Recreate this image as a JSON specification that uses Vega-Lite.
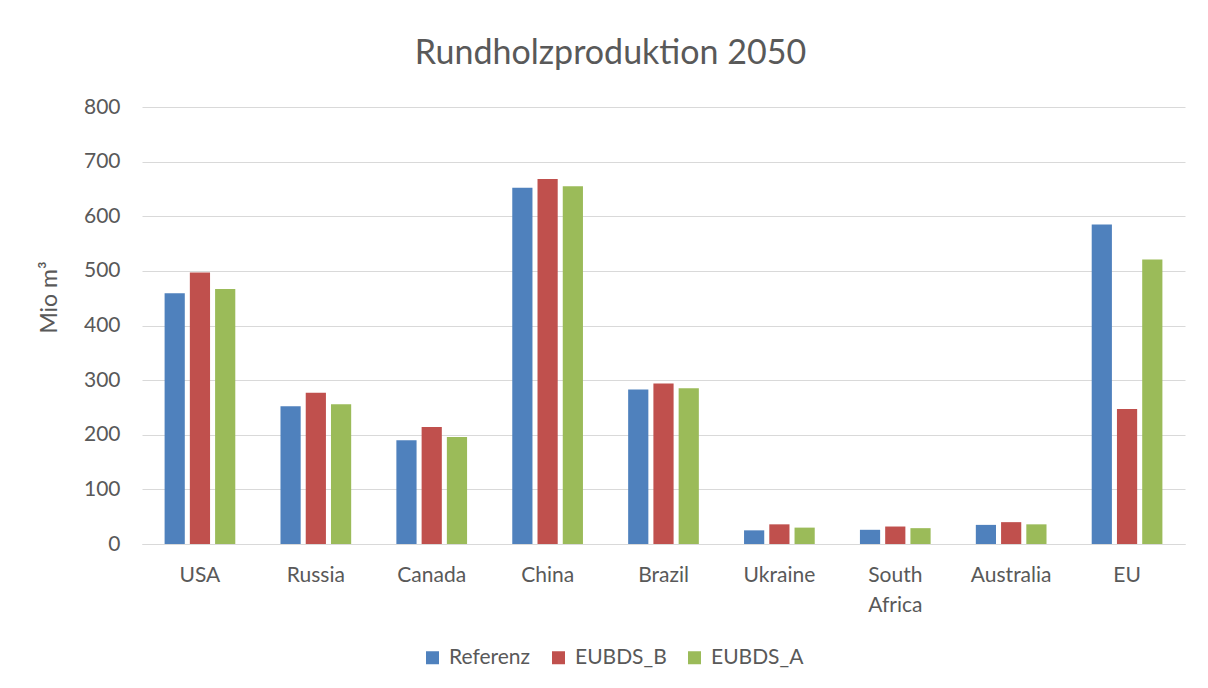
{
  "$schema": "https://vega.github.io/schema/vega-lite/v6.json",
  "width": 1043,
  "height": 437,
  "autosize": {"type": "none"},
  "padding": {"left": 142, "top": 107, "right": 23, "bottom": 144},
  "background": "white",
  "title": {
    "text": "Rundholzproduktion 2050",
    "font": "Lato",
    "fontSize": 34,
    "fontWeight": "normal",
    "color": "#595959",
    "anchor": "middle",
    "dx": -53,
    "offset": 25
  },
  "data": {
    "values": [
      {"country": "USA", "scenario": "Referenz", "value": 459},
      {"country": "USA", "scenario": "EUBDS_B", "value": 497},
      {"country": "USA", "scenario": "EUBDS_A", "value": 467},
      {"country": "Russia", "scenario": "Referenz", "value": 252},
      {"country": "Russia", "scenario": "EUBDS_B", "value": 277},
      {"country": "Russia", "scenario": "EUBDS_A", "value": 256},
      {"country": "Canada", "scenario": "Referenz", "value": 190},
      {"country": "Canada", "scenario": "EUBDS_B", "value": 214},
      {"country": "Canada", "scenario": "EUBDS_A", "value": 196},
      {"country": "China", "scenario": "Referenz", "value": 652},
      {"country": "China", "scenario": "EUBDS_B", "value": 668},
      {"country": "China", "scenario": "EUBDS_A", "value": 655},
      {"country": "Brazil", "scenario": "Referenz", "value": 283},
      {"country": "Brazil", "scenario": "EUBDS_B", "value": 294},
      {"country": "Brazil", "scenario": "EUBDS_A", "value": 285},
      {"country": "Ukraine", "scenario": "Referenz", "value": 25},
      {"country": "Ukraine", "scenario": "EUBDS_B", "value": 36},
      {"country": "Ukraine", "scenario": "EUBDS_A", "value": 30},
      {"country": "South Africa", "scenario": "Referenz", "value": 26},
      {"country": "South Africa", "scenario": "EUBDS_B", "value": 32},
      {"country": "South Africa", "scenario": "EUBDS_A", "value": 29},
      {"country": "Australia", "scenario": "Referenz", "value": 35},
      {"country": "Australia", "scenario": "EUBDS_B", "value": 40},
      {"country": "Australia", "scenario": "EUBDS_A", "value": 36},
      {"country": "EU", "scenario": "Referenz", "value": 585},
      {"country": "EU", "scenario": "EUBDS_B", "value": 247},
      {"country": "EU", "scenario": "EUBDS_A", "value": 521}
    ]
  },
  "mark": {"type": "bar"},
  "encoding": {
    "x": {
      "field": "country",
      "type": "nominal",
      "sort": ["USA", "Russia", "Canada", "China", "Brazil", "Ukraine", "South Africa", "Australia", "EU"],
      "scale": {"paddingInner": 0.39, "paddingOuter": 0.195},
      "axis": {
        "title": null,
        "labelAngle": 0,
        "ticks": false,
        "domainColor": "#D9D9D9",
        "domainWidth": 1,
        "labelPadding": 20,
        "labelFont": "Lato",
        "labelFontSize": 21,
        "labelColor": "#595959",
        "labelLineHeight": 30,
        "labelExpr": "datum.label == 'South Africa' ? ['South', 'Africa'] : datum.label"
      }
    },
    "xOffset": {
      "field": "scenario",
      "type": "nominal",
      "sort": ["Referenz", "EUBDS_B", "EUBDS_A"],
      "scale": {"paddingInner": 0.2, "paddingOuter": 0}
    },
    "y": {
      "field": "value",
      "type": "quantitative",
      "scale": {"domain": [0, 800], "nice": false},
      "axis": {
        "values": [0, 100, 200, 300, 400, 500, 600, 700, 800],
        "title": "Mio m³",
        "titleFont": "Lato",
        "titleFontSize": 23,
        "titleFontWeight": "normal",
        "titleColor": "#595959",
        "titlePadding": 22,
        "titleY": 190,
        "domain": false,
        "ticks": false,
        "gridColor": "#D9D9D9",
        "gridWidth": 1,
        "labelPadding": 22,
        "labelFont": "Lato",
        "labelFontSize": 21,
        "labelColor": "#595959"
      }
    },
    "color": {
      "field": "scenario",
      "type": "nominal",
      "sort": ["Referenz", "EUBDS_B", "EUBDS_A"],
      "scale": {
        "domain": ["Referenz", "EUBDS_B", "EUBDS_A"],
        "range": ["#4F81BD", "#C0504D", "#9BBB59"]
      },
      "legend": {
        "title": null,
        "orient": "none",
        "direction": "horizontal",
        "legendX": 280,
        "legendY": 540,
        "symbolType": "square",
        "symbolSize": 169,
        "symbolStrokeWidth": 0,
        "labelFont": "Lato",
        "labelFontSize": 21,
        "labelColor": "#595959",
        "labelOffset": 6,
        "columnPadding": 17
      }
    }
  },
  "config": {"view": {"stroke": null}}
}
